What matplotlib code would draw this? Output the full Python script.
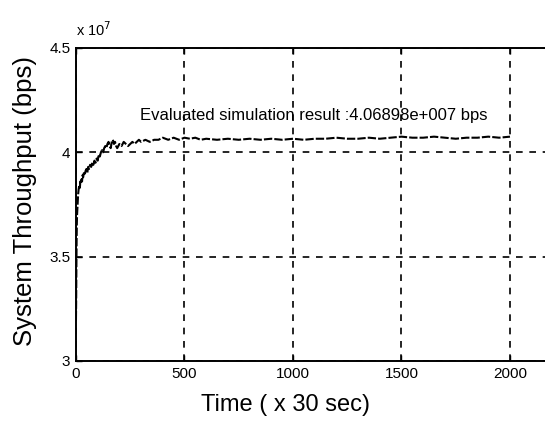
import matplotlib.pyplot as plt
from matplotlib.ticker import FixedLocator, FixedFormatter

# time index (x 30 sec) and system throughput (x 1e7 bps)
time = [0, 1, 2, 3, 4, 5, 6, 8, 10, 12, 15, 18, 20, 22, 25, 28, 30, 33, 36, 40,
        44, 48, 52, 56, 60, 65, 70, 75, 80, 85, 90, 95, 100, 105, 110, 115, 120,
        125, 130, 135, 140, 145, 150, 155, 160, 165, 170, 175, 180, 185, 190, 200,
        210, 220, 230, 240, 250, 260, 270, 280, 290, 300, 320, 340, 360, 380, 400,
        425, 450, 475, 500, 525, 550, 575, 600, 650, 700, 750, 800, 850, 900, 950,
        1000, 1050, 1100, 1150, 1200, 1250, 1300, 1350, 1400, 1450, 1500, 1550,
        1600, 1650, 1700, 1750, 1800, 1850, 1900, 1950, 2000]
throughput = [3.20, 3.30, 3.45, 3.58, 3.66, 3.70, 3.72, 3.76, 3.80, 3.82, 3.84, 3.83,
              3.86, 3.85, 3.87, 3.86, 3.89, 3.88, 3.90, 3.89, 3.91, 3.92, 3.90, 3.93,
              3.92, 3.94, 3.93, 3.95, 3.94, 3.96, 3.95, 3.97, 3.96, 3.99, 3.98, 4.00,
              4.01, 4.00, 4.02, 4.03, 4.02, 4.04, 4.05, 4.03, 4.02, 4.05, 4.06, 4.04,
              4.05, 4.03, 4.02, 4.04, 4.03, 4.05, 4.04, 4.03, 4.04, 4.05, 4.04, 4.05,
              4.06, 4.05, 4.06, 4.05, 4.06, 4.06, 4.07, 4.06, 4.07, 4.06, 4.07, 4.065,
              4.07, 4.06, 4.065, 4.06, 4.065, 4.06, 4.065, 4.06, 4.065, 4.06, 4.065,
              4.06, 4.065, 4.065, 4.07, 4.065, 4.065, 4.07, 4.065, 4.07, 4.075, 4.07,
              4.07, 4.075, 4.07, 4.065, 4.07, 4.07, 4.075, 4.07, 4.075]

x_ticks = [0, 500, 1000, 1500, 2000]
y_ticks = [3.0, 3.5, 4.0, 4.5]
y_labels = ["3", "3.5", "4", "4.5"]
result_text = "Evaluated simulation result :4.06898e+007 bps"

plt.rcParams['font.family'] = ['Liberation Sans', 'DejaVu Sans']

fig = plt.figure(figsize=(5.45, 4.23), dpi=100)
ax = fig.add_axes([0.1394, 0.1466, 0.876, 0.740])

ax.plot(time, throughput, color="black", linewidth=1.5, linestyle=(0, (4, 1)))

ax.set_xlim(0, 2200)
ax.set_ylim(3.0, 4.5)
ax.xaxis.set_major_locator(FixedLocator(x_ticks))
ax.yaxis.set_major_locator(FixedLocator(y_ticks))
ax.yaxis.set_major_formatter(FixedFormatter(y_labels))
ax.tick_params(direction="in", length=4, width=1, labelsize=11, pad=4,
               top=True, right=True)
ax.grid(True, color="black", linestyle=(0, (4, 4)), linewidth=1.2)
for s in ax.spines.values():
    s.set_linewidth(1.4)

ax.text(0.0, 1.03, r"x 10$^{7}$", transform=ax.transAxes, fontsize=10.5,
        ha="left", va="bottom")
ax.text(1097, 4.178, result_text, fontsize=12, ha="center", va="center")

ax.set_xlabel("Time ( x 30 sec)", fontsize=17)
ax.set_ylabel("System Throughput (bps)", fontsize=18.5)
ax.xaxis.set_label_coords(0.438, -0.105)
ax.yaxis.set_label_coords(-0.082, 0.51)

fig.savefig("out.png", dpi=100)
